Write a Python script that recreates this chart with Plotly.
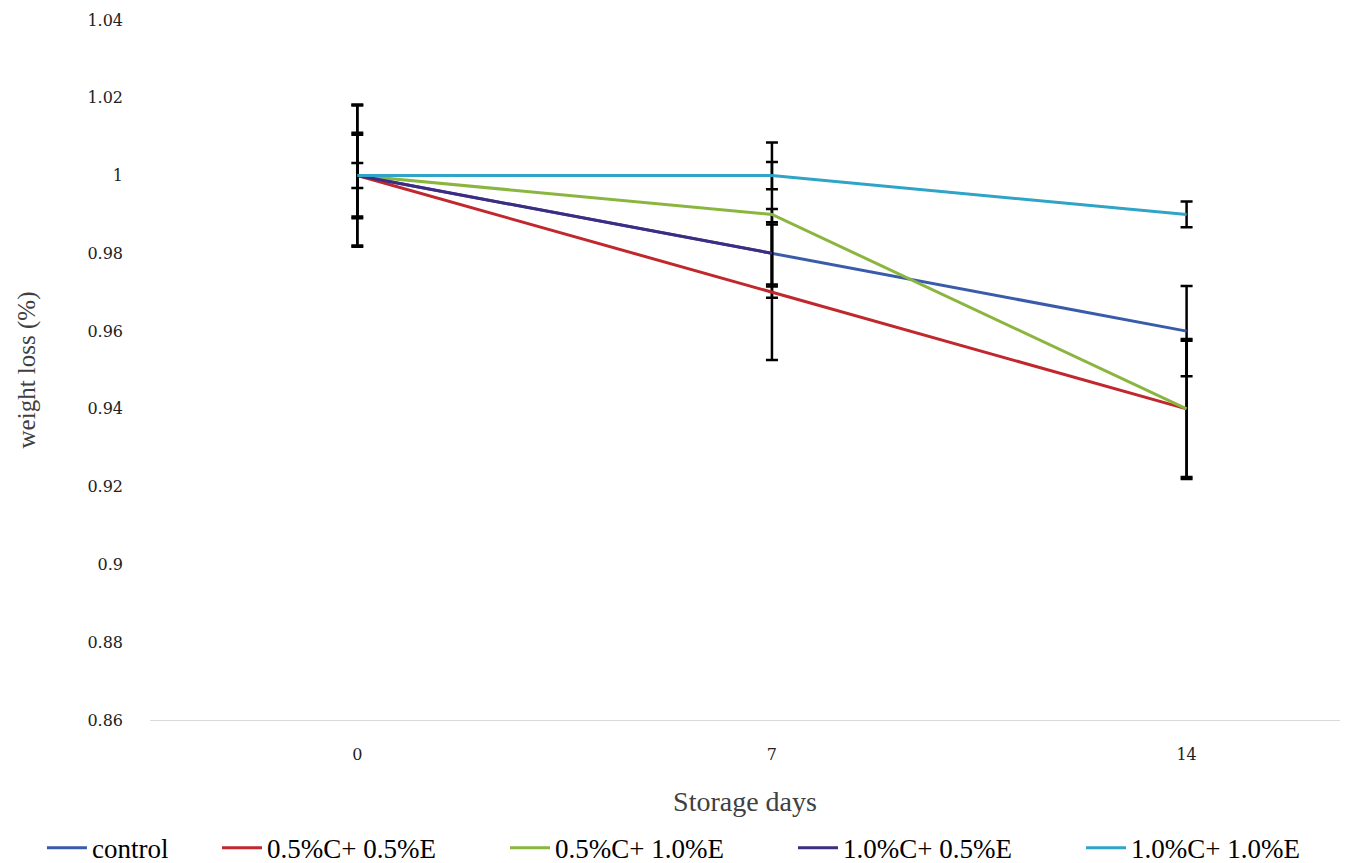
import plotly.graph_objects as go

days = ["0", "7", "14"]
series_names = ["control", "0.5%C+ 0.5%E", "0.5%C+ 1.0%E", "1.0%C+ 0.5%E", "1.0%C+ 1.0%E"]
control = [1.0, 0.98, 0.96]
c05_e05 = [1.0, 0.97, 0.94]
c05_e10 = [1.0, 0.99, 0.94]
c10_e05 = [1.0, 0.98, None]
c10_e10 = [1.0, 1.0, 0.99]
err_control = [0.0105, 0.0114, 0.0116]
err_c05_e05 = [0.018, 0.0174, 0.0175]
err_c05_e10 = [0.0183, 0.0185, 0.018]
err_c10_e05 = [0.011, 0.008, 0.0]
err_c10_e10 = [0.0032, 0.0035, 0.0033]
y_ticks = [0.86, 0.88, 0.90, 0.92, 0.94, 0.96, 0.98, 1.00, 1.02, 1.04]
y_tick_text = ["0.86", "0.88", "0.9", "0.92", "0.94", "0.96", "0.98", "1", "1.02", "1.04"]

colors = ["#3A5BAA", "#C0282E", "#8AB63F", "#3C2D83", "#2FA4C6"]
values = [control, c05_e05, c05_e10, c10_e05, c10_e10]
errors = [err_control, err_c05_e05, err_c05_e10, err_c10_e05, err_c10_e10]
legend_refs = ["legend", "legend2", "legend2", "legend2", "legend2"]

fig = go.Figure()
for name, vals, errs, col, lg in zip(series_names, values, errors, colors, legend_refs):
    fig.add_trace(go.Scatter(
        x=days, y=vals, name=name, mode="lines",
        line=dict(color=col, width=3),
        error_y=dict(type="data", array=errs, visible=True, color="#000000", thickness=2.5, width=6),
        connectgaps=False, legend=lg,
    ))

legend_font = dict(family="Liberation Serif", size=27, color="#000000")

fig.update_layout(
    width=1364, height=863,
    margin=dict(l=150, r=24, t=20, b=143, autoexpand=False),
    paper_bgcolor="white", plot_bgcolor="white",
    showlegend=True,
    legend=dict(orientation="h", x=-0.0908, xanchor="left", y=-0.183, yanchor="middle",
                font=legend_font, itemwidth=40, traceorder="normal"),
    legend2=dict(orientation="h", x=0.0563, xanchor="left", y=-0.183, yanchor="middle",
                 font=legend_font, itemwidth=40, traceorder="normal",
                 entrywidth=233, entrywidthmode="pixels"),
    xaxis=dict(type="category", range=[-0.5, 2.37], showgrid=False, zeroline=False,
               showline=True, linecolor="#D9D9D9", linewidth=1, ticks="",
               tickfont=dict(family="DejaVu Serif", size=16, color="#222222"),
               ticklabelstandoff=20,
               title=dict(text="Storage days", font=dict(family="Liberation Serif", size=28, color="#404040"), standoff=28)),
    yaxis=dict(range=[0.86, 1.04], tickvals=y_ticks, ticktext=y_tick_text, showgrid=False,
               zeroline=False, showline=False, ticks="",
               tickfont=dict(family="DejaVu Serif", size=16, color="#222222"),
               ticklabelstandoff=26,
               title=dict(text="weight loss (%)", font=dict(family="Liberation Serif", size=25, color="#404040"), standoff=44)),
)

fig.write_html("out.html", config={"displayModeBar": False},
               post_script="document.body.style.margin='0';")
